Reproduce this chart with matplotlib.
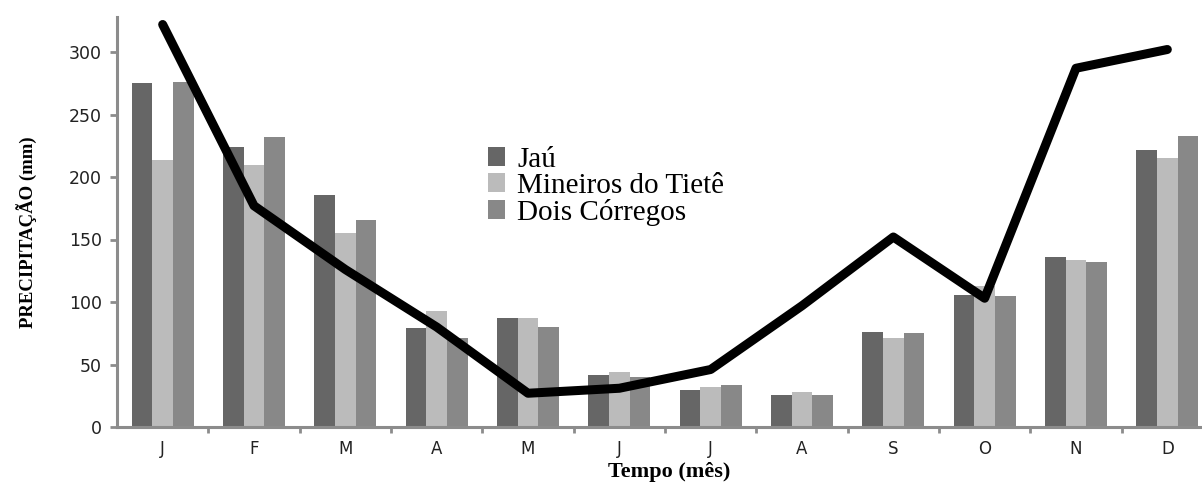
import numpy as np
import matplotlib.pyplot as plt

# monthly precipitation (mm)
months = ["J", "F", "M", "A", "M", "J", "J", "A", "S", "O", "N", "D"]
jau = [275, 224, 186, 79, 87, 42, 30, 26, 76, 106, 136, 222]
mineiros = [214, 210, 155, 93, 87, 44, 32, 28, 71, 113, 134, 215]
dois_corregos = [276, 232, 166, 71, 80, 40, 34, 26, 75, 105, 132, 233]
line_vals = [322, 177, 126, 80, 27, 31, 46, 97, 152, 103, 287, 302]

x = np.arange(len(months))
w = 0.227
grey = "#8c8c8c"

fig = plt.figure(figsize=(12.02, 4.83), dpi=100)
ax = fig.add_axes([117 / 1202, 56 / 483, 1096 / 1202, 410 / 483])

ax.bar(x - w, jau, w, color="#666666", label="Jaú")
ax.bar(x, mineiros, w, color="#bbbbbb", label="Mineiros do Tietê")
ax.bar(x + w, dois_corregos, w, color="#888888", label="Dois Córregos")
ax.plot(x, line_vals, color="black", lw=6.5, solid_capstyle="round",
        solid_joinstyle="round", zorder=5)

ax.set_xlim(-0.5, 11.5)
ax.set_ylim(0, 328)
ax.set_yticks([0, 50, 100, 150, 200, 250, 300])
ax.set_xticks(x)
ax.set_xticklabels(months)
ax.set_xticks(x[:-1] + 0.5, minor=True)

for s in ["top", "right"]:
    ax.spines[s].set_visible(False)
for s in ["left", "bottom"]:
    ax.spines[s].set_color(grey)
    ax.spines[s].set_linewidth(2.2)

ax.tick_params(axis="x", which="major", length=0, pad=9, labelsize=12,
               labelcolor="#222222")
ax.tick_params(axis="x", which="minor", length=4, width=2, color=grey)
ax.tick_params(axis="y", length=5, width=2, color=grey, pad=6, labelsize=12.5,
               labelcolor="#222222")

ax.set_ylabel("PRECIPITAÇÃO (mm)", family="Liberation Serif", fontsize=13.5,
              fontweight="bold")
ax.yaxis.set_label_coords(-80 / 1096, 195 / 410)
ax.set_xlabel("Tempo (mês)", family="Liberation Serif", fontsize=16,
              fontweight="bold")
ax.xaxis.set_label_coords(552 / 1096, -35 / 410)

ax.legend(loc="upper left", bbox_to_anchor=(488 / 1202, 1 - 147 / 483),
          bbox_transform=fig.transFigure, frameon=False,
          prop={"family": "Liberation Serif", "size": 21},
          handlelength=0.6, handleheight=0.6, handletextpad=0.4,
          labelspacing=0.0, borderaxespad=0, borderpad=0)

fig.savefig("out.png", dpi=100)
